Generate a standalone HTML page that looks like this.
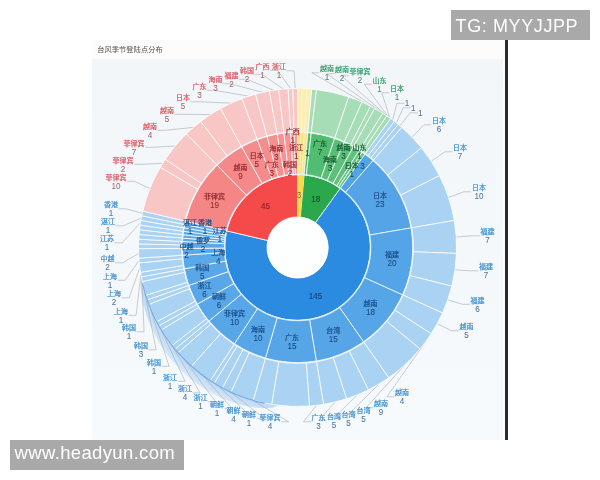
<!DOCTYPE html>
<html lang="zh-CN">
<head>
<meta charset="utf-8">
<title>台风季节登陆点分布</title>
<style>
html,body{margin:0;padding:0;background:#fff;}
body{width:600px;height:480px;position:relative;overflow:hidden;font-family:"Liberation Sans", "Noto Sans CJK SC", sans-serif;}
.panel{position:absolute;left:92px;top:40px;width:413.5px;height:399.5px;background:#fdfdfd;}
.panel .bg{position:absolute;left:0;top:19px;width:411px;bottom:0;background:linear-gradient(#f3f6f8,#f5f8fa 45%,#f7fafc);}
.panel .head{position:absolute;left:0;top:0;right:0;height:19px;background:#fcfcfc;}
.vline{position:absolute;left:505.4px;top:40px;width:2.4px;height:400px;background:#2a2a2a;}
.wm{position:absolute;background:#a9a9a9;color:#fff;line-height:30px;white-space:nowrap;}
.wm1{left:451px;top:10px;width:139px;height:29.5px;font-size:18px;letter-spacing:0.6px;}
.wm1 span{position:absolute;left:4.6px;top:0.5px;}
.wm2{left:10px;top:440.3px;width:173.8px;height:29.4px;font-size:18.5px;letter-spacing:0.35px;}
.wm2 span{position:absolute;left:4.6px;top:-1.9px;}
</style>
</head>
<body>
<div class="panel"><div class="head"></div><div class="bg"></div></div>
<div class="vline"></div>
<svg width="600" height="480" viewBox="0 0 600 480" style="position:absolute;left:0;top:0;filter:blur(0.45px)" font-family='"Liberation Sans", "Noto Sans CJK SC", sans-serif' font-size="7" text-anchor="middle"><defs><radialGradient id="cg" gradientUnits="userSpaceOnUse" cx="297.6" cy="247.5" r="180"><stop offset="0.88" stop-color="#b9d8f4"/><stop offset="0.915" stop-color="#cbe1f6"/><stop offset="0.945" stop-color="#dcebf8"/></radialGradient></defs><style>.n{font-size:8.1px} .t text{stroke-width:0.22px;paint-order:stroke} .t text.n{stroke-width:0.08px}</style><path d="M278.3 404.8L274.2 404.3L270.1 403.6L266.0 402.8L261.9 401.9L257.9 401.0L253.9 399.9L249.9 398.7L246.0 397.4L242.1 396.0L238.2 394.5L234.4 392.9L230.6 391.1L226.9 389.3L223.2 387.4L219.6 385.5L216.0 383.4L212.4 381.2L209.0 378.9L205.6 376.5L202.2 374.1L198.9 371.5L195.7 368.9L192.6 366.2L189.5 363.4L186.5 360.6L183.6 357.6L180.7 354.6L178.0 351.5L175.3 348.3L172.7 345.1L170.2 341.8L167.8 338.4L165.4 335.0L163.2 331.5L161.0 327.9L159.0 324.3L157.0 320.7L155.1 317.0L153.4 313.2L151.7 309.4L150.1 305.6L148.7 301.7L147.3 297.8L146.0 293.8L144.9 289.9L143.8 285.8L142.9 281.8L142.0 277.7L141.5 277.8L140.6 282.3L140.6 286.6L140.9 290.9L141.5 295.2L142.2 299.5L143.1 303.7L144.2 307.9L145.4 312.1L146.7 316.3L148.2 320.4L149.8 324.4L151.6 328.4L153.5 332.4L155.5 336.3L157.6 340.2L159.9 343.9L162.3 347.7L164.7 351.3L167.4 354.9L170.1 358.3L172.9 361.7L175.9 365.1L178.9 368.3L182.1 371.4L185.3 374.4L188.7 377.3L192.1 380.2L195.6 382.9L199.2 385.4L202.9 387.9L206.7 390.3L210.5 392.5L214.4 394.6L218.4 396.5L222.4 398.4L226.5 400.1L230.6 401.6L234.8 403.0L239.0 404.3L243.2 405.4L247.5 406.3L251.8 407.1L256.2 407.7L260.5 408.1L264.9 408.2L269.3 408.1L273.7 407.6L278.2 405.3Z" fill="url(#cg)"/><g fill="none" stroke="#a3adb5" stroke-width="0.6"><path d="M385.6 115.1L326.9 73.8L334.4 73.8"/><path d="M384.2 114.2L311.9 72.8L319.4 72.8"/><path d="M387.0 116.0L341.4 75.8L348.9 75.8"/><path d="M388.3 116.9L364.4 84.3L371.9 84.3"/><path d="M389.7 117.9L381.9 92.8L389.4 92.8"/><path d="M392.6 120.0L396.9 103.3L404.4 103.3"/><path d="M396.3 122.9L403.2 107.8L410.7 107.8"/><path d="M400.0 125.9L410.1 112.8L417.6 112.8"/><path d="M412.1 137.2L423.9 124.8L431.4 124.8"/><path d="M431.2 161.3L444.9 151.8L452.4 151.8"/><path d="M448.5 197.5L463.9 191.8L471.4 191.8"/><path d="M456.2 236.9L472.4 235.8L479.9 235.8"/><path d="M455.0 269.9L470.9 270.8L478.4 270.8"/><path d="M447.8 299.8L462.4 304.3L469.9 304.3"/><path d="M437.2 323.6L451.4 330.8L458.9 330.8"/><path d="M425.8 341.5L386.9 396.8L394.4 396.8"/><path d="M405.3 364.4L365.9 407.8L373.4 407.8"/><path d="M378.8 384.2L348.4 414.3L355.9 414.3"/><path d="M357.6 394.7L333.4 418.3L340.9 418.3"/><path d="M335.1 402.0L318.9 420.3L326.4 420.3"/><path d="M316.5 405.4L303.4 421.8L310.9 421.8"/><path d="M184.8 359.5L288.6 421.8L281.1 421.8"/><path d="M173.7 347.2L264.1 418.3L256.6 418.3"/><path d="M166.6 337.7L248.6 414.3L241.1 414.3"/><path d="M160.3 327.7L232.1 408.3L224.6 408.3"/><path d="M158.0 323.6L215.6 401.8L208.1 401.8"/><path d="M152.7 313.0L200.1 392.8L192.6 392.8"/><path d="M148.2 302.0L185.1 381.3L177.6 381.3"/><path d="M146.7 297.5L169.1 366.3L161.6 366.3"/><path d="M144.0 288.5L156.1 349.8L148.6 349.8"/><path d="M141.8 279.2L144.1 331.8L136.6 331.8"/><path d="M140.9 274.6L136.1 315.3L128.6 315.3"/><path d="M139.9 267.6L129.1 297.8L121.6 297.8"/><path d="M139.1 260.5L125.1 280.3L117.6 280.3"/><path d="M138.7 253.4L122.6 262.8L115.1 262.8"/><path d="M140.5 222.7L122.1 242.8L114.6 242.8"/><path d="M141.3 218.1L123.1 225.8L115.6 225.8"/><path d="M142.3 213.4L126.1 208.8L118.6 208.8"/><path d="M149.9 188.6L134.6 181.3L127.1 181.3"/><path d="M162.7 163.3L141.6 164.3L134.1 164.3"/><path d="M175.2 146.0L152.6 147.3L145.1 147.3"/><path d="M193.4 127.4L165.1 130.3L157.6 130.3"/><path d="M210.4 114.6L182.1 114.3L174.6 114.3"/><path d="M231.1 103.1L198.1 101.8L190.6 101.8"/><path d="M248.7 96.2L214.6 90.3L207.1 90.3"/><path d="M262.4 92.4L230.6 83.8L223.1 83.8"/><path d="M274.0 90.3L246.6 79.3L239.1 79.3"/><path d="M283.4 89.1L262.1 74.3L254.6 74.3"/><path d="M290.5 88.7L277.6 70.3L270.1 70.3"/><path d="M295.2 88.5L294.1 70.8L286.6 70.8"/></g><g><path d="M297.60 174.50A73.0 73.0 0 0 1 304.11 174.79L300.33 217.02A30.6 30.6 0 0 0 297.60 216.90Z" fill="#f6d94c" stroke="#ffffff" stroke-opacity="0.8" stroke-width="0.95"/><path d="M297.60 132.00A115.5 115.5 0 0 1 301.04 132.05L299.77 174.53A73.0 73.0 0 0 0 297.60 174.50Z" fill="#f8e27c" stroke="#ffffff" stroke-opacity="0.3" stroke-width="0.8"/><path d="M297.60 88.50A159.0 159.0 0 0 1 302.33 88.57L301.04 132.05A115.5 115.5 0 0 0 297.60 132.00Z" fill="#fbeeb4" stroke="#ffffff" stroke-opacity="0.3" stroke-width="0.8"/><path d="M301.04 132.05A115.5 115.5 0 0 1 304.47 132.20L301.95 174.63A73.0 73.0 0 0 0 299.77 174.53Z" fill="#f8e484" stroke="#ffffff" stroke-opacity="0.3" stroke-width="0.8"/><path d="M302.33 88.57A159.0 159.0 0 0 1 307.06 88.78L304.47 132.20A115.5 115.5 0 0 0 301.04 132.05Z" fill="#fbeeb4" stroke="#ffffff" stroke-opacity="0.3" stroke-width="0.8"/><path d="M304.47 132.20A115.5 115.5 0 0 1 307.90 132.46L304.11 174.79A73.0 73.0 0 0 0 301.95 174.63Z" fill="#f9e68d" stroke="#ffffff" stroke-opacity="0.3" stroke-width="0.8"/><path d="M307.06 88.78A159.0 159.0 0 0 1 311.79 89.13L307.90 132.46A115.5 115.5 0 0 0 304.47 132.20Z" fill="#fbeeb4" stroke="#ffffff" stroke-opacity="0.3" stroke-width="0.8"/><path d="M304.11 174.79A73.0 73.0 0 0 1 340.33 188.31L315.51 222.69A30.6 30.6 0 0 0 300.33 217.02Z" fill="#2ba84c" stroke="#ffffff" stroke-opacity="0.8" stroke-width="0.95"/><path d="M307.90 132.46A115.5 115.5 0 0 1 311.32 132.82L306.27 175.02A73.0 73.0 0 0 0 304.11 174.79Z" fill="#4fba6f" stroke="#ffffff" stroke-opacity="0.8" stroke-width="0.95"/><path d="M311.79 89.13A159.0 159.0 0 0 1 316.49 89.63L311.32 132.82A115.5 115.5 0 0 0 307.90 132.46Z" fill="#a6ddb6" stroke="#ffffff" stroke-opacity="0.8" stroke-width="0.95"/><path d="M311.32 132.82A115.5 115.5 0 0 1 334.76 138.14L321.09 178.38A73.0 73.0 0 0 0 306.27 175.02Z" fill="#53bc73" stroke="#ffffff" stroke-opacity="0.8" stroke-width="0.95"/><path d="M316.49 89.63A159.0 159.0 0 0 1 348.76 96.95L334.76 138.14A115.5 115.5 0 0 0 311.32 132.82Z" fill="#a6ddb6" stroke="#ffffff" stroke-opacity="0.8" stroke-width="0.95"/><path d="M334.76 138.14A115.5 115.5 0 0 1 344.37 141.89L327.16 180.75A73.0 73.0 0 0 0 321.09 178.38Z" fill="#58be76" stroke="#ffffff" stroke-opacity="0.8" stroke-width="0.95"/><path d="M348.76 96.95A159.0 159.0 0 0 1 361.98 102.12L344.37 141.89A115.5 115.5 0 0 0 334.76 138.14Z" fill="#a6ddb6" stroke="#ffffff" stroke-opacity="0.8" stroke-width="0.95"/><path d="M344.37 141.89A115.5 115.5 0 0 1 353.60 146.49L333.00 183.66A73.0 73.0 0 0 0 327.16 180.75Z" fill="#5cbf7a" stroke="#ffffff" stroke-opacity="0.8" stroke-width="0.95"/><path d="M361.98 102.12A159.0 159.0 0 0 1 370.52 106.21L350.57 144.86A115.5 115.5 0 0 0 344.37 141.89Z" fill="#a6ddb6" stroke="#ffffff" stroke-opacity="0.8" stroke-width="0.95"/><path d="M370.52 106.21A159.0 159.0 0 0 1 374.70 108.44L353.60 146.49A115.5 115.5 0 0 0 350.57 144.86Z" fill="#a6ddb6" stroke="#ffffff" stroke-opacity="0.8" stroke-width="0.95"/><path d="M353.60 146.49A115.5 115.5 0 0 1 359.52 150.00L336.73 185.88A73.0 73.0 0 0 0 333.00 183.66Z" fill="#60c17d" stroke="#ffffff" stroke-opacity="0.8" stroke-width="0.95"/><path d="M374.70 108.44A159.0 159.0 0 0 1 382.84 113.28L359.52 150.00A115.5 115.5 0 0 0 353.60 146.49Z" fill="#a6ddb6" stroke="#ffffff" stroke-opacity="0.8" stroke-width="0.95"/><path d="M359.52 150.00A115.5 115.5 0 0 1 362.39 151.89L338.55 187.07A73.0 73.0 0 0 0 336.73 185.88Z" fill="#65c381" stroke="#ffffff" stroke-opacity="0.8" stroke-width="0.95"/><path d="M382.84 113.28A159.0 159.0 0 0 1 386.79 115.87L362.39 151.89A115.5 115.5 0 0 0 359.52 150.00Z" fill="#a6ddb6" stroke="#ffffff" stroke-opacity="0.8" stroke-width="0.95"/><path d="M362.39 151.89A115.5 115.5 0 0 1 365.21 153.86L340.33 188.31A73.0 73.0 0 0 0 338.55 187.07Z" fill="#69c484" stroke="#ffffff" stroke-opacity="0.8" stroke-width="0.95"/><path d="M386.79 115.87A159.0 159.0 0 0 1 390.67 118.59L365.21 153.86A115.5 115.5 0 0 0 362.39 151.89Z" fill="#a6ddb6" stroke="#ffffff" stroke-opacity="0.8" stroke-width="0.95"/><path d="M340.33 188.31A73.0 73.0 0 1 1 226.54 230.80L267.81 240.50A30.6 30.6 0 1 0 315.51 222.69Z" fill="#2b8be0" stroke="#ffffff" stroke-opacity="0.8" stroke-width="0.95"/><path d="M365.21 153.86A115.5 115.5 0 0 1 373.30 160.26L345.44 192.36A73.0 73.0 0 0 0 340.33 188.31Z" fill="#53a4e7" stroke="#ffffff" stroke-opacity="0.8" stroke-width="0.95"/><path d="M390.67 118.59A159.0 159.0 0 0 1 394.47 121.42L367.97 155.91A115.5 115.5 0 0 0 365.21 153.86Z" fill="#a9d2f3" stroke="#ffffff" stroke-opacity="0.8" stroke-width="0.95"/><path d="M394.47 121.42A159.0 159.0 0 0 1 398.18 124.36L370.66 158.05A115.5 115.5 0 0 0 367.97 155.91Z" fill="#a9d2f3" stroke="#ffffff" stroke-opacity="0.8" stroke-width="0.95"/><path d="M398.18 124.36A159.0 159.0 0 0 1 401.80 127.41L373.30 160.26A115.5 115.5 0 0 0 370.66 158.05Z" fill="#a9d2f3" stroke="#ffffff" stroke-opacity="0.8" stroke-width="0.95"/><path d="M373.30 160.26A115.5 115.5 0 0 1 411.41 227.82L369.53 235.06A73.0 73.0 0 0 0 345.44 192.36Z" fill="#54a4e7" stroke="#ffffff" stroke-opacity="0.8" stroke-width="0.95"/><path d="M401.80 127.41A159.0 159.0 0 0 1 421.49 147.84L387.59 175.10A115.5 115.5 0 0 0 373.30 160.26Z" fill="#a9d2f3" stroke="#ffffff" stroke-opacity="0.8" stroke-width="0.95"/><path d="M421.49 147.84A159.0 159.0 0 0 1 439.43 175.63L400.63 195.29A115.5 115.5 0 0 0 387.59 175.10Z" fill="#a9d2f3" stroke="#ffffff" stroke-opacity="0.8" stroke-width="0.95"/><path d="M439.43 175.63A159.0 159.0 0 0 1 454.27 220.41L411.41 227.82A115.5 115.5 0 0 0 400.63 195.29Z" fill="#a9d2f3" stroke="#ffffff" stroke-opacity="0.8" stroke-width="0.95"/><path d="M411.41 227.82A115.5 115.5 0 0 1 402.86 295.05L364.13 277.56A73.0 73.0 0 0 0 369.53 235.06Z" fill="#54a5e7" stroke="#ffffff" stroke-opacity="0.8" stroke-width="0.95"/><path d="M454.27 220.41A159.0 159.0 0 0 1 456.49 253.42L413.02 251.80A115.5 115.5 0 0 0 411.41 227.82Z" fill="#a9d2f3" stroke="#ffffff" stroke-opacity="0.8" stroke-width="0.95"/><path d="M456.49 253.42A159.0 159.0 0 0 1 451.83 286.17L409.63 275.59A115.5 115.5 0 0 0 413.02 251.80Z" fill="#a9d2f3" stroke="#ffffff" stroke-opacity="0.8" stroke-width="0.95"/><path d="M451.83 286.17A159.0 159.0 0 0 1 442.50 312.96L402.86 295.05A115.5 115.5 0 0 0 409.63 275.59Z" fill="#a9d2f3" stroke="#ffffff" stroke-opacity="0.8" stroke-width="0.95"/><path d="M402.86 295.05A115.5 115.5 0 0 1 363.81 342.14L339.45 307.32A73.0 73.0 0 0 0 364.13 277.56Z" fill="#55a5e7" stroke="#ffffff" stroke-opacity="0.8" stroke-width="0.95"/><path d="M442.50 312.96A159.0 159.0 0 0 1 431.18 333.73L394.64 310.14A115.5 115.5 0 0 0 402.86 295.05Z" fill="#a9d2f3" stroke="#ffffff" stroke-opacity="0.8" stroke-width="0.95"/><path d="M431.18 333.73A159.0 159.0 0 0 1 419.99 349.00L386.51 321.23A115.5 115.5 0 0 0 394.64 310.14Z" fill="#a9d2f3" stroke="#ffffff" stroke-opacity="0.8" stroke-width="0.95"/><path d="M419.99 349.00A159.0 159.0 0 0 1 388.74 377.78L363.81 342.14A115.5 115.5 0 0 0 386.51 321.23Z" fill="#a9d2f3" stroke="#ffffff" stroke-opacity="0.8" stroke-width="0.95"/><path d="M363.81 342.14A115.5 115.5 0 0 1 316.43 361.45L309.50 319.52A73.0 73.0 0 0 0 339.45 307.32Z" fill="#56a5e7" stroke="#ffffff" stroke-opacity="0.8" stroke-width="0.95"/><path d="M388.74 377.78A159.0 159.0 0 0 1 368.41 389.86L349.04 350.91A115.5 115.5 0 0 0 363.81 342.14Z" fill="#a9d2f3" stroke="#ffffff" stroke-opacity="0.8" stroke-width="0.95"/><path d="M368.41 389.86A159.0 159.0 0 0 1 346.51 398.79L333.13 357.40A115.5 115.5 0 0 0 349.04 350.91Z" fill="#a9d2f3" stroke="#ffffff" stroke-opacity="0.8" stroke-width="0.95"/><path d="M346.51 398.79A159.0 159.0 0 0 1 323.52 404.37L316.43 361.45A115.5 115.5 0 0 0 333.13 357.40Z" fill="#a9d2f3" stroke="#ffffff" stroke-opacity="0.8" stroke-width="0.95"/><path d="M316.43 361.45A115.5 115.5 0 0 1 265.36 358.41L277.22 317.60A73.0 73.0 0 0 0 309.50 319.52Z" fill="#56a6e7" stroke="#ffffff" stroke-opacity="0.8" stroke-width="0.95"/><path d="M323.52 404.37A159.0 159.0 0 0 1 309.43 406.06L306.19 362.68A115.5 115.5 0 0 0 316.43 361.45Z" fill="#a9d2f3" stroke="#ffffff" stroke-opacity="0.8" stroke-width="0.95"/><path d="M309.43 406.06A159.0 159.0 0 0 1 271.68 404.37L278.77 361.45A115.5 115.5 0 0 0 306.19 362.68Z" fill="#a9d2f3" stroke="#ffffff" stroke-opacity="0.8" stroke-width="0.95"/><path d="M271.68 404.37A159.0 159.0 0 0 1 253.22 400.18L265.36 358.41A115.5 115.5 0 0 0 278.77 361.45Z" fill="#a9d2f3" stroke="#ffffff" stroke-opacity="0.8" stroke-width="0.95"/><path d="M265.36 358.41A115.5 115.5 0 0 1 234.24 344.07L257.55 308.53A73.0 73.0 0 0 0 277.22 317.60Z" fill="#57a6e8" stroke="#ffffff" stroke-opacity="0.8" stroke-width="0.95"/><path d="M253.22 400.18A159.0 159.0 0 0 1 231.06 391.91L249.26 352.40A115.5 115.5 0 0 0 265.36 358.41Z" fill="#a9d2f3" stroke="#ffffff" stroke-opacity="0.8" stroke-width="0.95"/><path d="M231.06 391.91A159.0 159.0 0 0 1 222.58 387.69L243.11 349.34A115.5 115.5 0 0 0 249.26 352.40Z" fill="#a9d2f3" stroke="#ffffff" stroke-opacity="0.8" stroke-width="0.95"/><path d="M222.58 387.69A159.0 159.0 0 0 1 214.37 382.98L237.14 345.91A115.5 115.5 0 0 0 243.11 349.34Z" fill="#a9d2f3" stroke="#ffffff" stroke-opacity="0.8" stroke-width="0.95"/><path d="M214.37 382.98A159.0 159.0 0 0 1 210.37 380.44L234.24 344.07A115.5 115.5 0 0 0 237.14 345.91Z" fill="#a9d2f3" stroke="#ffffff" stroke-opacity="0.8" stroke-width="0.95"/><path d="M234.24 344.07A115.5 115.5 0 0 1 208.69 321.23L241.41 294.10A73.0 73.0 0 0 0 257.55 308.53Z" fill="#57a6e8" stroke="#ffffff" stroke-opacity="0.8" stroke-width="0.95"/><path d="M210.37 380.44A159.0 159.0 0 0 1 191.62 366.03L220.61 333.60A115.5 115.5 0 0 0 234.24 344.07Z" fill="#a9d2f3" stroke="#ffffff" stroke-opacity="0.8" stroke-width="0.95"/><path d="M191.62 366.03A159.0 159.0 0 0 1 178.29 352.60L210.93 323.84A115.5 115.5 0 0 0 220.61 333.60Z" fill="#a9d2f3" stroke="#ffffff" stroke-opacity="0.8" stroke-width="0.95"/><path d="M178.29 352.60A159.0 159.0 0 0 1 175.21 349.00L208.69 321.23A115.5 115.5 0 0 0 210.93 323.84Z" fill="#a9d2f3" stroke="#ffffff" stroke-opacity="0.8" stroke-width="0.95"/><path d="M208.69 321.23A115.5 115.5 0 0 1 197.01 304.25L234.02 283.37A73.0 73.0 0 0 0 241.41 294.10Z" fill="#58a7e8" stroke="#ffffff" stroke-opacity="0.8" stroke-width="0.95"/><path d="M175.21 349.00A159.0 159.0 0 0 1 172.24 345.31L206.54 318.55A115.5 115.5 0 0 0 208.69 321.23Z" fill="#a9d2f3" stroke="#ffffff" stroke-opacity="0.8" stroke-width="0.95"/><path d="M172.24 345.31A159.0 159.0 0 0 1 161.51 329.72L198.74 307.22A115.5 115.5 0 0 0 206.54 318.55Z" fill="#a9d2f3" stroke="#ffffff" stroke-opacity="0.8" stroke-width="0.95"/><path d="M161.51 329.72A159.0 159.0 0 0 1 159.12 325.63L197.01 304.25A115.5 115.5 0 0 0 198.74 307.22Z" fill="#a9d2f3" stroke="#ffffff" stroke-opacity="0.8" stroke-width="0.95"/><path d="M197.01 304.25A115.5 115.5 0 0 1 188.52 285.47L228.66 271.50A73.0 73.0 0 0 0 234.02 283.37Z" fill="#59a7e8" stroke="#ffffff" stroke-opacity="0.8" stroke-width="0.95"/><path d="M159.12 325.63A159.0 159.0 0 0 1 156.85 321.47L195.36 301.23A115.5 115.5 0 0 0 197.01 304.25Z" fill="#a9d2f3" stroke="#ffffff" stroke-opacity="0.8" stroke-width="0.95"/><path d="M156.85 321.47A159.0 159.0 0 0 1 149.06 304.22L189.70 288.70A115.5 115.5 0 0 0 195.36 301.23Z" fill="#a9d2f3" stroke="#ffffff" stroke-opacity="0.8" stroke-width="0.95"/><path d="M149.06 304.22A159.0 159.0 0 0 1 147.44 299.77L188.52 285.47A115.5 115.5 0 0 0 189.70 288.70Z" fill="#a9d2f3" stroke="#ffffff" stroke-opacity="0.8" stroke-width="0.95"/><path d="M188.52 285.47A115.5 115.5 0 0 1 184.09 268.87L225.86 261.01A73.0 73.0 0 0 0 228.66 271.50Z" fill="#59a7e8" stroke="#ffffff" stroke-opacity="0.8" stroke-width="0.95"/><path d="M147.44 299.77A159.0 159.0 0 0 1 145.95 295.28L187.44 282.21A115.5 115.5 0 0 0 188.52 285.47Z" fill="#a9d2f3" stroke="#ffffff" stroke-opacity="0.8" stroke-width="0.95"/><path d="M145.95 295.28A159.0 159.0 0 0 1 142.29 281.56L184.78 272.24A115.5 115.5 0 0 0 187.44 282.21Z" fill="#a9d2f3" stroke="#ffffff" stroke-opacity="0.8" stroke-width="0.95"/><path d="M142.29 281.56A159.0 159.0 0 0 1 141.35 276.92L184.09 268.87A115.5 115.5 0 0 0 184.78 272.24Z" fill="#a9d2f3" stroke="#ffffff" stroke-opacity="0.8" stroke-width="0.95"/><path d="M184.09 268.87A115.5 115.5 0 0 1 182.36 255.23L224.76 252.39A73.0 73.0 0 0 0 225.86 261.01Z" fill="#5aa8e8" stroke="#ffffff" stroke-opacity="0.8" stroke-width="0.95"/><path d="M141.35 276.92A159.0 159.0 0 0 1 140.54 272.26L183.51 265.48A115.5 115.5 0 0 0 184.09 268.87Z" fill="#a9d2f3" stroke="#ffffff" stroke-opacity="0.8" stroke-width="0.95"/><path d="M140.54 272.26A159.0 159.0 0 0 1 139.34 262.86L182.64 258.66A115.5 115.5 0 0 0 183.51 265.48Z" fill="#a9d2f3" stroke="#ffffff" stroke-opacity="0.8" stroke-width="0.95"/><path d="M139.34 262.86A159.0 159.0 0 0 1 138.96 258.15L182.36 255.23A115.5 115.5 0 0 0 182.64 258.66Z" fill="#a9d2f3" stroke="#ffffff" stroke-opacity="0.8" stroke-width="0.95"/><path d="M182.36 255.23A115.5 115.5 0 0 1 182.10 248.36L224.60 248.04A73.0 73.0 0 0 0 224.76 252.39Z" fill="#5ba8e8" stroke="#ffffff" stroke-opacity="0.8" stroke-width="0.95"/><path d="M138.96 258.15A159.0 159.0 0 0 1 138.60 248.68L182.10 248.36A115.5 115.5 0 0 0 182.36 255.23Z" fill="#a9d2f3" stroke="#ffffff" stroke-opacity="0.8" stroke-width="0.95"/><path d="M182.10 248.36A115.5 115.5 0 0 1 182.26 241.48L224.70 243.70A73.0 73.0 0 0 0 224.60 248.04Z" fill="#5ba8e8" stroke="#ffffff" stroke-opacity="0.8" stroke-width="0.95"/><path d="M138.60 248.68A159.0 159.0 0 0 1 138.64 243.95L182.13 244.92A115.5 115.5 0 0 0 182.10 248.36Z" fill="#a9d2f3" stroke="#ffffff" stroke-opacity="0.8" stroke-width="0.95"/><path d="M138.64 243.95A159.0 159.0 0 0 1 138.82 239.22L182.26 241.48A115.5 115.5 0 0 0 182.13 244.92Z" fill="#a9d2f3" stroke="#ffffff" stroke-opacity="0.8" stroke-width="0.95"/><path d="M182.26 241.48A115.5 115.5 0 0 1 182.49 238.05L224.84 241.53A73.0 73.0 0 0 0 224.70 243.70Z" fill="#5ca9e8" stroke="#ffffff" stroke-opacity="0.8" stroke-width="0.95"/><path d="M138.82 239.22A159.0 159.0 0 0 1 139.13 234.49L182.49 238.05A115.5 115.5 0 0 0 182.26 241.48Z" fill="#a9d2f3" stroke="#ffffff" stroke-opacity="0.8" stroke-width="0.95"/><path d="M182.49 238.05A115.5 115.5 0 0 1 182.82 234.63L225.05 239.37A73.0 73.0 0 0 0 224.84 241.53Z" fill="#5da9e8" stroke="#ffffff" stroke-opacity="0.8" stroke-width="0.95"/><path d="M139.13 234.49A159.0 159.0 0 0 1 139.59 229.78L182.82 234.63A115.5 115.5 0 0 0 182.49 238.05Z" fill="#a9d2f3" stroke="#ffffff" stroke-opacity="0.8" stroke-width="0.95"/><path d="M182.82 234.63A115.5 115.5 0 0 1 183.25 231.22L225.33 237.21A73.0 73.0 0 0 0 225.05 239.37Z" fill="#5da9e8" stroke="#ffffff" stroke-opacity="0.8" stroke-width="0.95"/><path d="M139.59 229.78A159.0 159.0 0 0 1 140.19 225.08L183.25 231.22A115.5 115.5 0 0 0 182.82 234.63Z" fill="#a9d2f3" stroke="#ffffff" stroke-opacity="0.8" stroke-width="0.95"/><path d="M183.25 231.22A115.5 115.5 0 0 1 183.79 227.82L225.67 235.06A73.0 73.0 0 0 0 225.33 237.21Z" fill="#5eaae9" stroke="#ffffff" stroke-opacity="0.8" stroke-width="0.95"/><path d="M140.19 225.08A159.0 159.0 0 0 1 140.93 220.41L183.79 227.82A115.5 115.5 0 0 0 183.25 231.22Z" fill="#a9d2f3" stroke="#ffffff" stroke-opacity="0.8" stroke-width="0.95"/><path d="M183.79 227.82A115.5 115.5 0 0 1 184.43 224.44L226.07 232.93A73.0 73.0 0 0 0 225.67 235.06Z" fill="#5eaae9" stroke="#ffffff" stroke-opacity="0.8" stroke-width="0.95"/><path d="M140.93 220.41A159.0 159.0 0 0 1 141.80 215.76L184.43 224.44A115.5 115.5 0 0 0 183.79 227.82Z" fill="#a9d2f3" stroke="#ffffff" stroke-opacity="0.8" stroke-width="0.95"/><path d="M184.43 224.44A115.5 115.5 0 0 1 185.16 221.08L226.54 230.80A73.0 73.0 0 0 0 226.07 232.93Z" fill="#5faae9" stroke="#ffffff" stroke-opacity="0.8" stroke-width="0.95"/><path d="M141.80 215.76A159.0 159.0 0 0 1 142.82 211.13L185.16 221.08A115.5 115.5 0 0 0 184.43 224.44Z" fill="#a9d2f3" stroke="#ffffff" stroke-opacity="0.8" stroke-width="0.95"/><path d="M226.54 230.80A73.0 73.0 0 0 1 297.60 174.50L297.60 216.90A30.6 30.6 0 0 0 267.81 240.50Z" fill="#f54a4a" stroke="#ffffff" stroke-opacity="0.8" stroke-width="0.95"/><path d="M185.16 221.08A115.5 115.5 0 0 1 216.85 164.92L246.56 195.31A73.0 73.0 0 0 0 226.54 230.80Z" fill="#f58686" stroke="#ffffff" stroke-opacity="0.8" stroke-width="0.95"/><path d="M142.82 211.13A159.0 159.0 0 0 1 160.30 167.32L197.86 189.25A115.5 115.5 0 0 0 185.16 221.08Z" fill="#f9c6c6" stroke="#ffffff" stroke-opacity="0.8" stroke-width="0.95"/><path d="M160.30 167.32A159.0 159.0 0 0 1 165.31 159.29L201.51 183.42A115.5 115.5 0 0 0 197.86 189.25Z" fill="#f9c6c6" stroke="#ffffff" stroke-opacity="0.8" stroke-width="0.95"/><path d="M165.31 159.29A159.0 159.0 0 0 1 186.43 133.82L216.85 164.92A115.5 115.5 0 0 0 201.51 183.42Z" fill="#f9c6c6" stroke="#ffffff" stroke-opacity="0.8" stroke-width="0.95"/><path d="M216.85 164.92A115.5 115.5 0 0 1 241.60 146.49L262.20 183.66A73.0 73.0 0 0 0 246.56 195.31Z" fill="#f58888" stroke="#ffffff" stroke-opacity="0.8" stroke-width="0.95"/><path d="M186.43 133.82A159.0 159.0 0 0 1 200.73 121.42L227.23 155.91A115.5 115.5 0 0 0 216.85 164.92Z" fill="#f9c6c6" stroke="#ffffff" stroke-opacity="0.8" stroke-width="0.95"/><path d="M200.73 121.42A159.0 159.0 0 0 1 220.50 108.44L241.60 146.49A115.5 115.5 0 0 0 227.23 155.91Z" fill="#f9c6c6" stroke="#ffffff" stroke-opacity="0.8" stroke-width="0.95"/><path d="M241.60 146.49A115.5 115.5 0 0 1 257.20 139.30L272.07 179.11A73.0 73.0 0 0 0 262.20 183.66Z" fill="#f58b8b" stroke="#ffffff" stroke-opacity="0.8" stroke-width="0.95"/><path d="M220.50 108.44A159.0 159.0 0 0 1 241.98 98.54L257.20 139.30A115.5 115.5 0 0 0 241.60 146.49Z" fill="#f9c6c6" stroke="#ffffff" stroke-opacity="0.8" stroke-width="0.95"/><path d="M257.20 139.30A115.5 115.5 0 0 1 267.01 136.12L278.27 177.11A73.0 73.0 0 0 0 272.07 179.11Z" fill="#f58d8d" stroke="#ffffff" stroke-opacity="0.8" stroke-width="0.95"/><path d="M241.98 98.54A159.0 159.0 0 0 1 255.50 94.18L267.01 136.12A115.5 115.5 0 0 0 257.20 139.30Z" fill="#f9c6c6" stroke="#ffffff" stroke-opacity="0.8" stroke-width="0.95"/><path d="M267.01 136.12A115.5 115.5 0 0 1 277.07 133.84L284.63 175.66A73.0 73.0 0 0 0 278.27 177.11Z" fill="#f69090" stroke="#ffffff" stroke-opacity="0.8" stroke-width="0.95"/><path d="M255.50 94.18A159.0 159.0 0 0 1 269.34 91.03L277.07 133.84A115.5 115.5 0 0 0 267.01 136.12Z" fill="#f9c6c6" stroke="#ffffff" stroke-opacity="0.8" stroke-width="0.95"/><path d="M277.07 133.84A115.5 115.5 0 0 1 283.88 132.82L288.93 175.02A73.0 73.0 0 0 0 284.63 175.66Z" fill="#f69292" stroke="#ffffff" stroke-opacity="0.8" stroke-width="0.95"/><path d="M269.34 91.03A159.0 159.0 0 0 1 278.71 89.63L283.88 132.82A115.5 115.5 0 0 0 277.07 133.84Z" fill="#f9c6c6" stroke="#ffffff" stroke-opacity="0.8" stroke-width="0.95"/><path d="M283.88 132.82A115.5 115.5 0 0 1 290.73 132.20L293.25 174.63A73.0 73.0 0 0 0 288.93 175.02Z" fill="#f69494" stroke="#ffffff" stroke-opacity="0.8" stroke-width="0.95"/><path d="M278.71 89.63A159.0 159.0 0 0 1 288.14 88.78L290.73 132.20A115.5 115.5 0 0 0 283.88 132.82Z" fill="#f9c6c6" stroke="#ffffff" stroke-opacity="0.8" stroke-width="0.95"/><path d="M290.73 132.20A115.5 115.5 0 0 1 294.16 132.05L295.43 174.53A73.0 73.0 0 0 0 293.25 174.63Z" fill="#f69797" stroke="#ffffff" stroke-opacity="0.8" stroke-width="0.95"/><path d="M288.14 88.78A159.0 159.0 0 0 1 292.87 88.57L294.16 132.05A115.5 115.5 0 0 0 290.73 132.20Z" fill="#f9c6c6" stroke="#ffffff" stroke-opacity="0.8" stroke-width="0.95"/><path d="M294.16 132.05A115.5 115.5 0 0 1 297.60 132.00L297.60 174.50A73.0 73.0 0 0 0 295.43 174.53Z" fill="#f69999" stroke="#ffffff" stroke-opacity="0.8" stroke-width="0.95"/><path d="M292.87 88.57A159.0 159.0 0 0 1 297.60 88.50L297.60 132.00A115.5 115.5 0 0 0 294.16 132.05Z" fill="#f9c6c6" stroke="#ffffff" stroke-opacity="0.8" stroke-width="0.95"/></g><path d="M264.5 403.2A159.2 159.2 0 0 1 142.5 283.3" fill="none" stroke="#6aa7e1" stroke-width="1.2" stroke-opacity="0.9"/><path d="M297.41 174.90A72.6 72.6 0 0 1 304.20 175.20L300.29 218.02A29.6 29.6 0 0 0 297.52 217.90Z" fill="#f6d94c"/><circle cx="297.6" cy="247.5" r="73.0" fill="none" stroke="#e4f1fb" stroke-opacity="0.7" stroke-width="1.5"/><circle cx="297.6" cy="247.5" r="115.5" fill="none" stroke="#eef6fc" stroke-opacity="0.7" stroke-width="1.7"/><circle cx="297.6" cy="247.5" r="30.6" fill="#fdfefe"/><g class="t"><text x="342" y="72.1" fill="#2d9d68" stroke="#2d9d68">越南</text><text transform="translate(342.0 78.0) scale(1 1.18)" y="2.8" fill="#4f8a72" stroke="#4f8a72" class="n">2</text><text x="327" y="71.1" fill="#2d9d68" stroke="#2d9d68">越南</text><text transform="translate(327.0 77.0) scale(1 1.18)" y="2.8" fill="#4f8a72" stroke="#4f8a72" class="n">1</text><text x="360" y="74.1" fill="#2d9d68" stroke="#2d9d68">菲律宾</text><text transform="translate(360.0 80.0) scale(1 1.18)" y="2.8" fill="#4f8a72" stroke="#4f8a72" class="n">2</text><text x="379.5" y="82.6" fill="#2d9d68" stroke="#2d9d68">山东</text><text transform="translate(379.5 88.5) scale(1 1.18)" y="2.8" fill="#4f8a72" stroke="#4f8a72" class="n">1</text><text x="397" y="91.1" fill="#2d9d68" stroke="#2d9d68">日本</text><text transform="translate(397.0 97.0) scale(1 1.18)" y="2.8" fill="#4f8a72" stroke="#4f8a72" class="n">1</text><text transform="translate(407.0 103.0) scale(1 1.18)" y="2.8" fill="#52799c" stroke="#52799c" class="n">1</text><text transform="translate(413.3 107.5) scale(1 1.18)" y="2.8" fill="#52799c" stroke="#52799c" class="n">1</text><text transform="translate(420.2 112.5) scale(1 1.18)" y="2.8" fill="#52799c" stroke="#52799c" class="n">1</text><text x="439" y="123.1" fill="#3d90d2" stroke="#3d90d2">日本</text><text transform="translate(439.0 129.0) scale(1 1.18)" y="2.8" fill="#52799c" stroke="#52799c" class="n">6</text><text x="460" y="150.1" fill="#3d90d2" stroke="#3d90d2">日本</text><text transform="translate(460.0 156.0) scale(1 1.18)" y="2.8" fill="#52799c" stroke="#52799c" class="n">7</text><text x="479" y="190.1" fill="#3d90d2" stroke="#3d90d2">日本</text><text transform="translate(479.0 196.0) scale(1 1.18)" y="2.8" fill="#52799c" stroke="#52799c" class="n">10</text><text x="487.5" y="234.1" fill="#3d90d2" stroke="#3d90d2">福建</text><text transform="translate(487.5 240.0) scale(1 1.18)" y="2.8" fill="#52799c" stroke="#52799c" class="n">7</text><text x="486" y="269.1" fill="#3d90d2" stroke="#3d90d2">福建</text><text transform="translate(486.0 275.0) scale(1 1.18)" y="2.8" fill="#52799c" stroke="#52799c" class="n">7</text><text x="477.5" y="302.6" fill="#3d90d2" stroke="#3d90d2">福建</text><text transform="translate(477.5 308.5) scale(1 1.18)" y="2.8" fill="#52799c" stroke="#52799c" class="n">6</text><text x="466.5" y="329.1" fill="#3d90d2" stroke="#3d90d2">越南</text><text transform="translate(466.5 335.0) scale(1 1.18)" y="2.8" fill="#52799c" stroke="#52799c" class="n">5</text><text x="402" y="395.1" fill="#3d90d2" stroke="#3d90d2">越南</text><text transform="translate(402.0 401.0) scale(1 1.18)" y="2.8" fill="#52799c" stroke="#52799c" class="n">4</text><text x="381" y="406.1" fill="#3d90d2" stroke="#3d90d2">越南</text><text transform="translate(381.0 412.0) scale(1 1.18)" y="2.8" fill="#52799c" stroke="#52799c" class="n">9</text><text x="363.5" y="412.6" fill="#3d90d2" stroke="#3d90d2">台湾</text><text transform="translate(363.5 418.5) scale(1 1.18)" y="2.8" fill="#52799c" stroke="#52799c" class="n">5</text><text x="348.5" y="416.6" fill="#3d90d2" stroke="#3d90d2">台湾</text><text transform="translate(348.5 422.5) scale(1 1.18)" y="2.8" fill="#52799c" stroke="#52799c" class="n">5</text><text x="334" y="418.6" fill="#3d90d2" stroke="#3d90d2">台湾</text><text transform="translate(334.0 424.5) scale(1 1.18)" y="2.8" fill="#52799c" stroke="#52799c" class="n">5</text><text x="318.5" y="420.1" fill="#3d90d2" stroke="#3d90d2">广东</text><text transform="translate(318.5 426.0) scale(1 1.18)" y="2.8" fill="#52799c" stroke="#52799c" class="n">3</text><text x="270" y="420.1" fill="#3d90d2" stroke="#3d90d2">菲律宾</text><text transform="translate(270.0 426.0) scale(1 1.18)" y="2.8" fill="#52799c" stroke="#52799c" class="n">4</text><text x="249" y="416.6" fill="#3d90d2" stroke="#3d90d2">朝鲜</text><text transform="translate(249.0 422.5) scale(1 1.18)" y="2.8" fill="#52799c" stroke="#52799c" class="n">1</text><text x="233.5" y="412.6" fill="#3d90d2" stroke="#3d90d2">朝鲜</text><text transform="translate(233.5 418.5) scale(1 1.18)" y="2.8" fill="#52799c" stroke="#52799c" class="n">4</text><text x="217" y="406.6" fill="#3d90d2" stroke="#3d90d2">朝鲜</text><text transform="translate(217.0 412.5) scale(1 1.18)" y="2.8" fill="#52799c" stroke="#52799c" class="n">1</text><text x="200.5" y="400.1" fill="#3d90d2" stroke="#3d90d2">浙江</text><text transform="translate(200.5 406.0) scale(1 1.18)" y="2.8" fill="#52799c" stroke="#52799c" class="n">1</text><text x="185" y="391.1" fill="#3d90d2" stroke="#3d90d2">浙江</text><text transform="translate(185.0 397.0) scale(1 1.18)" y="2.8" fill="#52799c" stroke="#52799c" class="n">4</text><text x="170" y="379.6" fill="#3d90d2" stroke="#3d90d2">浙江</text><text transform="translate(170.0 385.5) scale(1 1.18)" y="2.8" fill="#52799c" stroke="#52799c" class="n">1</text><text x="154" y="364.6" fill="#3d90d2" stroke="#3d90d2">韩国</text><text transform="translate(154.0 370.5) scale(1 1.18)" y="2.8" fill="#52799c" stroke="#52799c" class="n">1</text><text x="141" y="348.1" fill="#3d90d2" stroke="#3d90d2">韩国</text><text transform="translate(141.0 354.0) scale(1 1.18)" y="2.8" fill="#52799c" stroke="#52799c" class="n">3</text><text x="129" y="330.1" fill="#3d90d2" stroke="#3d90d2">韩国</text><text transform="translate(129.0 336.0) scale(1 1.18)" y="2.8" fill="#52799c" stroke="#52799c" class="n">1</text><text x="121" y="313.6" fill="#3d90d2" stroke="#3d90d2">上海</text><text transform="translate(121.0 319.5) scale(1 1.18)" y="2.8" fill="#52799c" stroke="#52799c" class="n">1</text><text x="114" y="296.1" fill="#3d90d2" stroke="#3d90d2">上海</text><text transform="translate(114.0 302.0) scale(1 1.18)" y="2.8" fill="#52799c" stroke="#52799c" class="n">2</text><text x="110" y="278.6" fill="#3d90d2" stroke="#3d90d2">上海</text><text transform="translate(110.0 284.5) scale(1 1.18)" y="2.8" fill="#52799c" stroke="#52799c" class="n">1</text><text x="107.5" y="261.1" fill="#3d90d2" stroke="#3d90d2">中越</text><text transform="translate(107.5 267.0) scale(1 1.18)" y="2.8" fill="#52799c" stroke="#52799c" class="n">2</text><text x="107" y="241.1" fill="#3d90d2" stroke="#3d90d2">江苏</text><text transform="translate(107.0 247.0) scale(1 1.18)" y="2.8" fill="#52799c" stroke="#52799c" class="n">1</text><text x="108" y="224.1" fill="#3d90d2" stroke="#3d90d2">湛江</text><text transform="translate(108.0 230.0) scale(1 1.18)" y="2.8" fill="#52799c" stroke="#52799c" class="n">1</text><text x="111" y="207.1" fill="#3d90d2" stroke="#3d90d2">香港</text><text transform="translate(111.0 213.0) scale(1 1.18)" y="2.8" fill="#52799c" stroke="#52799c" class="n">1</text><text x="116" y="179.6" fill="#dc5560" stroke="#dc5560">菲律宾</text><text transform="translate(116.0 185.5) scale(1 1.18)" y="2.8" fill="#a56a74" stroke="#a56a74" class="n">10</text><text x="123" y="162.6" fill="#dc5560" stroke="#dc5560">菲律宾</text><text transform="translate(123.0 168.5) scale(1 1.18)" y="2.8" fill="#a56a74" stroke="#a56a74" class="n">2</text><text x="134" y="145.6" fill="#dc5560" stroke="#dc5560">菲律宾</text><text transform="translate(134.0 151.5) scale(1 1.18)" y="2.8" fill="#a56a74" stroke="#a56a74" class="n">7</text><text x="150" y="128.6" fill="#dc5560" stroke="#dc5560">越南</text><text transform="translate(150.0 134.5) scale(1 1.18)" y="2.8" fill="#a56a74" stroke="#a56a74" class="n">4</text><text x="167" y="112.6" fill="#dc5560" stroke="#dc5560">越南</text><text transform="translate(167.0 118.5) scale(1 1.18)" y="2.8" fill="#a56a74" stroke="#a56a74" class="n">5</text><text x="183" y="100.1" fill="#dc5560" stroke="#dc5560">日本</text><text transform="translate(183.0 106.0) scale(1 1.18)" y="2.8" fill="#a56a74" stroke="#a56a74" class="n">5</text><text x="199.5" y="88.6" fill="#dc5560" stroke="#dc5560">广东</text><text transform="translate(199.5 94.5) scale(1 1.18)" y="2.8" fill="#a56a74" stroke="#a56a74" class="n">3</text><text x="215.5" y="82.1" fill="#dc5560" stroke="#dc5560">海南</text><text transform="translate(215.5 88.0) scale(1 1.18)" y="2.8" fill="#a56a74" stroke="#a56a74" class="n">3</text><text x="231.5" y="77.6" fill="#dc5560" stroke="#dc5560">福建</text><text transform="translate(231.5 83.5) scale(1 1.18)" y="2.8" fill="#a56a74" stroke="#a56a74" class="n">2</text><text x="247" y="72.6" fill="#dc5560" stroke="#dc5560">韩国</text><text transform="translate(247.0 78.5) scale(1 1.18)" y="2.8" fill="#a56a74" stroke="#a56a74" class="n">2</text><text x="262.5" y="68.6" fill="#dc5560" stroke="#dc5560">广西</text><text transform="translate(262.5 74.5) scale(1 1.18)" y="2.8" fill="#a56a74" stroke="#a56a74" class="n">1</text><text x="279" y="69.1" fill="#dc5560" stroke="#dc5560">浙江</text><text transform="translate(279.0 75.0) scale(1 1.18)" y="2.8" fill="#a56a74" stroke="#a56a74" class="n">1</text><text transform="translate(265.4 206.0) scale(1 1.18)" y="2.8" fill="#8a1f24" stroke="#8a1f24" class="n">45</text><text transform="translate(299.0 195.0) scale(1 1.18)" y="2.8" fill="#8a7420" stroke="#8a7420" class="n">3</text><text transform="translate(315.8 198.8) scale(1 1.18)" y="2.8" fill="#0f4f24" stroke="#0f4f24" class="n">18</text><text transform="translate(315.6 295.2) scale(1 1.18)" y="2.8" fill="#123f78" stroke="#123f78" class="n">145</text><text x="320" y="146.0" fill="#125a30" stroke="#125a30">广东</text><text transform="translate(320.0 151.6) scale(1 1.18)" y="2.8" fill="#125a30" stroke="#125a30" class="n">7</text><text x="330" y="162.1" fill="#125a30" stroke="#125a30">海南</text><text transform="translate(330.0 167.7) scale(1 1.18)" y="2.8" fill="#125a30" stroke="#125a30" class="n">3</text><text x="343.5" y="150.4" fill="#125a30" stroke="#125a30">越南</text><text transform="translate(343.5 156.0) scale(1 1.18)" y="2.8" fill="#125a30" stroke="#125a30" class="n">3</text><text x="359.5" y="150.4" fill="#125a30" stroke="#125a30">山东</text><text transform="translate(359.5 156.0) scale(1 1.18)" y="2.8" fill="#125a30" stroke="#125a30" class="n">1</text><text x="351.7" y="167.6" fill="#125a30" stroke="#125a30">日本</text><text transform="translate(351.7 173.2) scale(1 1.18)" y="2.8" fill="#125a30" stroke="#125a30" class="n">1</text><text x="380" y="198.4" fill="#1b4f88" stroke="#1b4f88">日本</text><text transform="translate(380.0 204.0) scale(1 1.18)" y="2.8" fill="#1a4b82" stroke="#1a4b82" class="n">23</text><text x="392" y="257.3" fill="#1b4f88" stroke="#1b4f88">福建</text><text transform="translate(392.0 262.9) scale(1 1.18)" y="2.8" fill="#1a4b82" stroke="#1a4b82" class="n">20</text><text x="370.4" y="305.9" fill="#1b4f88" stroke="#1b4f88">越南</text><text transform="translate(370.4 311.5) scale(1 1.18)" y="2.8" fill="#1a4b82" stroke="#1a4b82" class="n">18</text><text x="333.3" y="333.4" fill="#1b4f88" stroke="#1b4f88">台湾</text><text transform="translate(333.3 339.0) scale(1 1.18)" y="2.8" fill="#1a4b82" stroke="#1a4b82" class="n">15</text><text x="292.1" y="340.1" fill="#1b4f88" stroke="#1b4f88">广东</text><text transform="translate(292.1 345.7) scale(1 1.18)" y="2.8" fill="#1a4b82" stroke="#1a4b82" class="n">15</text><text x="257.9" y="331.9" fill="#1b4f88" stroke="#1b4f88">海南</text><text transform="translate(257.9 337.5) scale(1 1.18)" y="2.8" fill="#1a4b82" stroke="#1a4b82" class="n">10</text><text x="234.4" y="315.9" fill="#1b4f88" stroke="#1b4f88">菲律宾</text><text transform="translate(234.4 321.5) scale(1 1.18)" y="2.8" fill="#1a4b82" stroke="#1a4b82" class="n">10</text><text x="219" y="299.0" fill="#1b4f88" stroke="#1b4f88">朝鲜</text><text transform="translate(219.0 304.6) scale(1 1.18)" y="2.8" fill="#1a4b82" stroke="#1a4b82" class="n">6</text><text x="204.4" y="287.6" fill="#1b4f88" stroke="#1b4f88">浙江</text><text transform="translate(204.4 293.2) scale(1 1.18)" y="2.8" fill="#1a4b82" stroke="#1a4b82" class="n">6</text><text x="202.3" y="270.1" fill="#1b4f88" stroke="#1b4f88">韩国</text><text transform="translate(202.3 275.7) scale(1 1.18)" y="2.8" fill="#1a4b82" stroke="#1a4b82" class="n">5</text><text x="218.3" y="255.0" fill="#1b4f88" stroke="#1b4f88">上海</text><text transform="translate(218.3 260.6) scale(1 1.18)" y="2.8" fill="#1a4b82" stroke="#1a4b82" class="n">4</text><text x="186.4" y="249.3" fill="#1b4f88" stroke="#1b4f88">中越</text><text transform="translate(186.4 254.9) scale(1 1.18)" y="2.8" fill="#1a4b82" stroke="#1a4b82" class="n">2</text><text x="202.9" y="243.0" fill="#1b4f88" stroke="#1b4f88">俄罗</text><text transform="translate(202.9 248.6) scale(1 1.18)" y="2.8" fill="#1a4b82" stroke="#1a4b82" class="n">2</text><text x="219.8" y="232.9" fill="#1b4f88" stroke="#1b4f88">江苏</text><text transform="translate(219.8 238.5) scale(1 1.18)" y="2.8" fill="#1a4b82" stroke="#1a4b82" class="n">1</text><text x="190" y="225.3" fill="#1b4f88" stroke="#1b4f88">湛江</text><text transform="translate(190.0 230.9) scale(1 1.18)" y="2.8" fill="#1a4b82" stroke="#1a4b82" class="n">1</text><text x="205" y="225.3" fill="#1b4f88" stroke="#1b4f88">香港</text><text transform="translate(205.0 230.9) scale(1 1.18)" y="2.8" fill="#1a4b82" stroke="#1a4b82" class="n">1</text><text x="214.6" y="199.1" fill="#942830" stroke="#942830">菲律宾</text><text transform="translate(214.6 204.7) scale(1 1.18)" y="2.8" fill="#922a31" stroke="#922a31" class="n">19</text><text x="240.5" y="169.9" fill="#942830" stroke="#942830">越南</text><text transform="translate(240.5 175.5) scale(1 1.18)" y="2.8" fill="#922a31" stroke="#922a31" class="n">9</text><text x="256.8" y="157.9" fill="#942830" stroke="#942830">日本</text><text transform="translate(256.8 163.5) scale(1 1.18)" y="2.8" fill="#922a31" stroke="#922a31" class="n">5</text><text x="271.8" y="167.4" fill="#942830" stroke="#942830">广东</text><text transform="translate(271.8 173.0) scale(1 1.18)" y="2.8" fill="#922a31" stroke="#922a31" class="n">3</text><text x="276.3" y="151.3" fill="#942830" stroke="#942830">海南</text><text transform="translate(276.3 156.9) scale(1 1.18)" y="2.8" fill="#922a31" stroke="#922a31" class="n">3</text><text x="289.9" y="166.9" fill="#942830" stroke="#942830">韩国</text><text transform="translate(289.9 172.5) scale(1 1.18)" y="2.8" fill="#922a31" stroke="#922a31" class="n">2</text><text x="292.7" y="134.1" fill="#942830" stroke="#942830">广西</text><text transform="translate(292.7 139.7) scale(1 1.18)" y="2.8" fill="#922a31" stroke="#922a31" class="n">1</text><text x="296.3" y="150.4" fill="#942830" stroke="#942830">浙江</text><text transform="translate(296.3 156.0) scale(1 1.18)" y="2.8" fill="#922a31" stroke="#922a31" class="n">1</text><text transform="translate(307.5 152.3) scale(1 1.18)" y="2.8" fill="#125a30" stroke="#125a30" class="n">1</text><text transform="translate(362.5 165.6) scale(1 1.18)" y="2.8" fill="#1a4b82" stroke="#1a4b82" class="n">3</text></g><text x="97.3" y="52.2" text-anchor="start" font-size="7.28" fill="#555">台风季节登陆点分布</text></svg>
<div class="wm wm1"><span>TG: MYYJJPP</span></div>
<div class="wm wm2"><span>www.headyun.com</span></div>
</body>
</html>
